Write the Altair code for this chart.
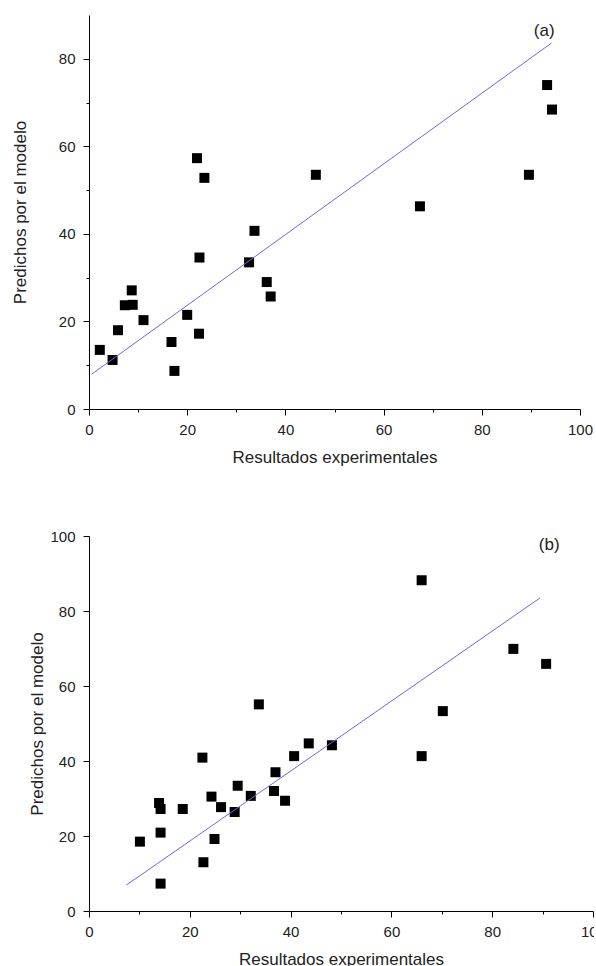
import altair as alt
import pandas as pd

FONT = "Liberation Sans"

# Panel (a)
a_x = [2.2, 4.8, 5.9, 7.3, 8.9, 8.7, 11.1, 16.8, 17.4, 20.0, 22.0, 23.5,
       22.5, 22.4, 32.6, 33.7, 36.2, 37.0, 46.2, 67.4, 89.6, 93.3, 94.3]
a_y = [13.5, 11.2, 18.0, 23.7, 23.8, 27.1, 20.3, 15.3, 8.7, 21.5, 57.3, 52.8,
       34.6, 17.2, 33.5, 40.7, 29.0, 25.7, 53.5, 46.3, 53.5, 74.0, 68.4]
a_fit_x = [0.6, 94.2]
a_fit_y = [8.0, 83.6]
a_label = ["(a)"]
a_label_x = [92.7]
a_label_y = [86.4]
a_y_ticks = [0, 10, 20, 30, 40, 50, 60, 70, 80]

# Panel (b)
b_x = [10.1, 13.9, 14.2, 14.2, 14.2, 18.6, 22.5, 22.7, 24.3, 24.9, 26.2, 28.9, 29.5,
       32.1, 33.7, 36.7, 37.0, 38.9, 40.7, 43.6, 48.2, 66.0, 66.0, 70.2, 84.2, 90.7]
b_y = [18.5, 28.8, 27.2, 20.9, 7.3, 27.2, 40.9, 13.0, 30.5, 19.2, 27.7, 26.4, 33.4,
       30.7, 55.1, 32.0, 37.0, 29.4, 41.3, 44.7, 44.2, 88.2, 41.3, 53.3, 69.9, 65.9]
b_fit_x = [7.4, 89.5]
b_fit_y = [6.9, 83.5]
b_label = ["(b)"]
b_label_x = [91.3]
b_label_y = [97.6]
b_y_ticks = [0, 10, 20, 30, 40, 50, 60, 70, 80, 90, 100]

x_ticks = [0, 10, 20, 30, 40, 50, 60, 70, 80, 90, 100]

X_TITLE = "Resultados experimentales"
Y_TITLE = "Predichos por el modelo"


def panel(px, py, fx, fy, lab, lx, ly, ymax, y_vals, width, height, y_title_pad):
    pts = pd.DataFrame({"x": px, "y": py})
    fit = pd.DataFrame({"x": fx, "y": fy})
    txt = pd.DataFrame({"x": lx, "y": ly, "t": lab})

    xscale = alt.Scale(domain=[0, 100], nice=False, zero=False)
    yscale = alt.Scale(domain=[0, ymax], nice=False, zero=False)

    xaxis = alt.Axis(
        title=X_TITLE, values=x_ticks,
        labelExpr="datum.value % 20 === 0 ? datum.label : ''",
        tickSize={"condition": {"test": "datum.value % 20 === 0", "value": 6}, "value": 3},
        labelPadding=7, titlePadding=12, labelFlush=False, labelOverlap=False,
    )
    yaxis = alt.Axis(
        title=Y_TITLE, values=y_vals,
        labelExpr="datum.value % 20 === 0 ? datum.label : ''",
        tickSize={"condition": {"test": "datum.value % 20 === 0", "value": 6}, "value": 3},
        labelPadding=8, titlePadding=y_title_pad, labelFlush=False, labelOverlap=False,
    )

    points = alt.Chart(pts).mark_square(size=100, color="black", opacity=1).encode(
        x=alt.X("x:Q", scale=xscale, axis=xaxis),
        y=alt.Y("y:Q", scale=yscale, axis=yaxis),
    )
    line = alt.Chart(fit).mark_line(color="#6a6ae0", strokeWidth=1).encode(
        x=alt.X("x:Q", scale=xscale),
        y=alt.Y("y:Q", scale=yscale),
    )
    label = alt.Chart(txt).mark_text(font=FONT, fontSize=17, color="#222222").encode(
        x=alt.X("x:Q", scale=xscale),
        y=alt.Y("y:Q", scale=yscale),
        text="t:N",
    )
    return alt.layer(points, line, label).properties(width=width, height=height)


pa = panel(a_x, a_y, a_fit_x, a_fit_y, a_label, a_label_x, a_label_y,
           90, a_y_ticks, 491, 394, 29)
pb = panel(b_x, b_y, b_fit_x, b_fit_y, b_label, b_label_x, b_label_y,
           100, b_y_ticks, 504, 375, 3)

chart = alt.vconcat(pa, pb, spacing=64).properties(
    padding={"left": 11, "top": 15, "right": -12, "bottom": 0},
    background="white",
).configure_view(stroke=None).configure_axis(
    grid=False,
    domainColor="black", domainWidth=1,
    tickColor="black", tickWidth=1,
    labelFont=FONT, labelFontSize=15, labelColor="#222222",
    titleFont=FONT, titleFontSize=17, titleFontWeight="normal", titleColor="#222222",
)

chart.save("out.html", embed_options={"renderer": "svg", "actions": False})
